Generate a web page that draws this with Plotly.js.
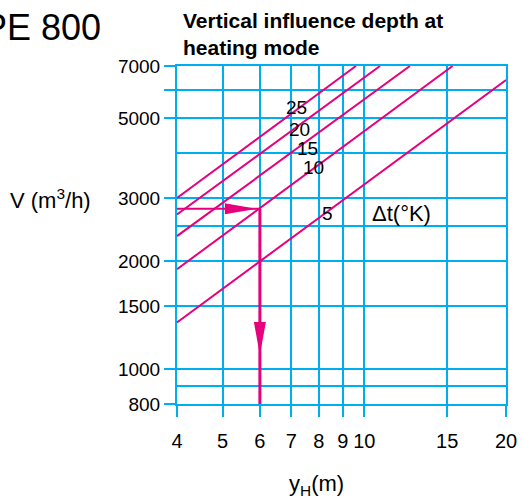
<!DOCTYPE html>
<html><head><meta charset="utf-8">
<script src="https://cdn.plot.ly/plotly-3.0.1.min.js"></script>
<style>html,body{margin:0;padding:0;background:#fff;}#chart{width:523px;height:501px;}</style>
</head><body><div id="chart"></div>
<script>
// ---- data ----
const deltaT = ['25', '20', '15', '10', '5'];
const lineYH = [[4, 9.6], [4, 10.8], [4, 12.5], [4, 15.4], [4, 20]];
const lineV = [[3000, 7000], [2700, 7000], [2350, 7000], [1900, 7000], [1350, 6400]];
const exampleV = 2800;     // m3/h
const exampleYH = 6;       // m
const xTickVals = [4, 5, 6, 7, 8, 9, 10, 15, 20];
const xTickText = ['4', '5', '6', '7', '8', '9', '10', '15', '20'];
const yTickVals = [800, 1000, 1500, 2000, 3000, 5000, 6000, 7000];
const yTickText = ['800', '1000', '1500', '2000', '3000', '5000', '', '7000'];
const yMinorVals = [900, 2500, 4000];

// ---- styling ----
const GRID = '#00AEEF';
const MAG = '#E6007E';
const FONTN = 'Liberation Sans, Arial, sans-serif';

const traces = deltaT.map((d, i) => ({
  type: 'scatter', mode: 'lines', x: lineYH[i], y: lineV[i],
  line: {color: MAG, width: 2}, name: 'Δt ' + d, showlegend: false, hoverinfo: 'skip'
}));
traces.push({type: 'scatter', mode: 'lines', x: [xTickVals[0], exampleYH], y: [exampleV, exampleV],
  line: {color: MAG, width: 2}, showlegend: false, hoverinfo: 'skip'});
traces.push({type: 'scatter', mode: 'lines', x: [exampleYH, exampleYH], y: [exampleV, yTickVals[0]],
  line: {color: MAG, width: 3}, showlegend: false, hoverinfo: 'skip'});

const L = Math.log10;
const labelPos = [[7.19, 5350], [7.27, 4645], [7.59, 4110], [7.81, 3660], [8.34, 2710]];
const annotations = deltaT.map((d, i) => ({
  text: d, x: L(labelPos[i][0]), y: L(labelPos[i][1]), xref: 'x', yref: 'y',
  showarrow: false, font: {family: FONTN, size: 19, color: '#000'}, xanchor: 'center', yanchor: 'middle'
}));
annotations.push({text: 'Δt(°K)', x: L(12.0), y: L(2710), xref: 'x', yref: 'y', showarrow: false,
  font: {family: FONTN, size: 22, color: '#000'}, xanchor: 'center', yanchor: 'middle'});
annotations.push({text: 'V (m<sup>3</sup>/h)', x: -0.386, y: 0.607, xref: 'paper', yref: 'paper',
  showarrow: false, font: {family: FONTN, size: 22, color: '#000'}, xanchor: 'center', yanchor: 'middle'});
annotations.push({text: 'y<sub>H</sub>(m)', x: 0.4255, y: -0.2396, xref: 'paper', yref: 'paper',
  showarrow: false, font: {family: FONTN, size: 22, color: '#000'}, xanchor: 'center', yanchor: 'middle'});
annotations.push({text: 'PE 800', x: -0.226, y: 1.113, xref: 'paper', yref: 'paper',
  showarrow: false, font: {family: FONTN, size: 36, color: '#000'}, xanchor: 'right', yanchor: 'middle'});
annotations.push({text: '<b>Vertical influence depth at<br>heating mode</b>', x: 0.012, y: 1.176,
  xref: 'paper', yref: 'paper', showarrow: false, align: 'left',
  font: {family: FONTN, size: 21, color: '#000'}, xanchor: 'left', yanchor: 'top'});

const layout = {
  width: 523, height: 501,
  margin: {l: 177, r: 17, t: 66, b: 97},
  paper_bgcolor: '#fff', plot_bgcolor: '#fff',
  showlegend: false,
  xaxis: {
    type: 'log', range: [L(4), L(20)],
    tickmode: 'array', tickvals: xTickVals, ticktext: xTickText,
    ticks: 'outside', ticklen: 11, tickwidth: 2, tickcolor: GRID,
    showgrid: true, gridcolor: GRID, gridwidth: 2,
    showline: true, linecolor: GRID, linewidth: 2, mirror: true,
    zeroline: false, ticklabelstandoff: 7,
    tickfont: {family: FONTN, size: 20, color: '#000'}
  },
  yaxis: {
    type: 'log', range: [L(800), L(7000)],
    tickmode: 'array', tickvals: yTickVals, ticktext: yTickText,
    ticks: 'outside', ticklen: 11, tickwidth: 2, tickcolor: GRID,
    showgrid: true, gridcolor: GRID, gridwidth: 2,
    showline: true, linecolor: GRID, linewidth: 2, mirror: true,
    zeroline: false,
    minor: {tickmode: 'array', tickvals: yMinorVals, showgrid: true, gridcolor: GRID, gridwidth: 2, ticks: ''},
    tickfont: {family: FONTN, size: 19, color: '#000'}
  },
  annotations: annotations,
  shapes: [
    {type: 'path', xref: 'x', yref: 'y', xsizemode: 'pixel', ysizemode: 'pixel',
     xanchor: exampleYH, yanchor: exampleV, path: 'M -35,5.5 L -3,0 L -35,-5.5 Z',
     fillcolor: MAG, line: {width: 0}, layer: 'above'},
    {type: 'path', xref: 'x', yref: 'y', xsizemode: 'pixel', ysizemode: 'pixel',
     xanchor: exampleYH, yanchor: yTickVals[0], path: 'M -6,82 L 6,82 L 0,49 Z',
     fillcolor: MAG, line: {width: 0}, layer: 'above'}
  ]
};

Plotly.newPlot('chart', traces, layout, {staticPlot: true, displayModeBar: false});
</script>
</body></html>
